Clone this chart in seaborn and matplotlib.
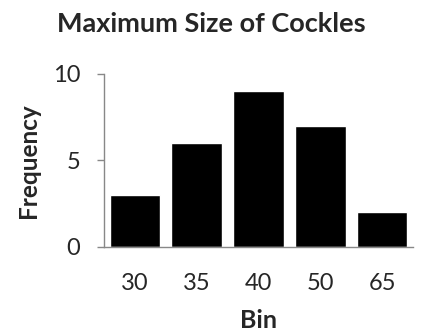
import matplotlib
matplotlib.use("Agg")
import matplotlib.pyplot as plt
import seaborn as sns
import pandas as pd

bins = ["30", "35", "40", "50", "65"]
frequency = [3, 6, 9, 7, 2]
y_ticks = [0, 5, 10]

df = pd.DataFrame({"Bin": bins, "Frequency": frequency})

sns.set_style("white")
plt.rcParams["font.family"] = ["Lato", "DejaVu Sans"]

fig = plt.figure(figsize=(4.22, 3.33), dpi=100)
ax = fig.add_axes([0.2464, 0.2583, 0.7323, 0.5195])

sns.barplot(data=df, x="Bin", y="Frequency", color="black", width=0.82,
            saturation=1, ax=ax)

ax.set_xlim(-0.5, len(bins) - 0.5)
ax.set_ylim(0, 10)
ax.set_yticks(y_ticks)
ax.set_yticklabels([str(v) for v in y_ticks])

axis_grey = "#888888"
for side in ("top", "right"):
    ax.spines[side].set_visible(False)
for side in ("left", "bottom"):
    ax.spines[side].set_color(axis_grey)
    ax.spines[side].set_linewidth(1.0)

# category boundaries carry the tick marks, labels sit at centres
ax.set_xticks([i - 0.5 for i in range(len(bins) + 1)], minor=True)
ax.tick_params(axis="x", which="minor", length=5.5, color=axis_grey, width=1, direction="out")
ax.tick_params(axis="x", which="major", length=0, labelsize=17, pad=19)
ax.tick_params(axis="y", length=5, color=axis_grey, width=1, direction="out",
               labelsize=17, pad=12, left=True)

ax.set_xlabel("")
ax.set_ylabel("")
fig.text(0.612, 1 - 321 / 333, "Bin", fontsize=18, fontweight="bold",
         ha="center", va="center")
fig.text(29 / 422, 1 - 160.5 / 333, "Frequency", fontsize=17.5, fontweight="bold",
         ha="center", va="center", rotation=90)
fig.text(0.5, 1 - 24 / 333, "Maximum Size of Cockles", fontsize=19.5,
         fontweight="bold", ha="center", va="center")

fig.savefig("out.png", dpi=100)
